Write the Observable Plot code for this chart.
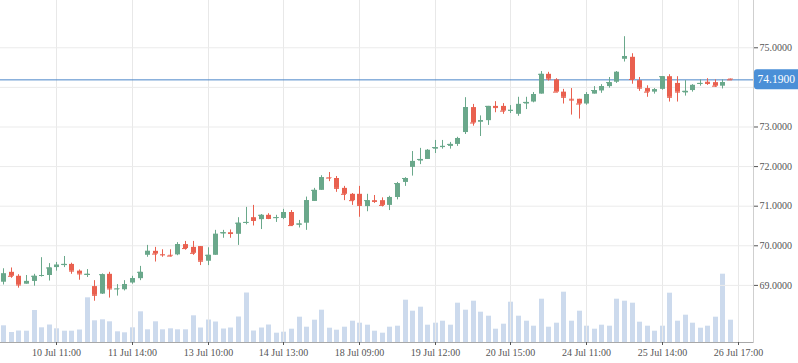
<!DOCTYPE html>
<html><head><meta charset="utf-8">
<script src="https://cdn.jsdelivr.net/npm/d3@7"></script>
<script src="https://cdn.jsdelivr.net/npm/@observablehq/plot@0.6"></script>
<style>
html,body{margin:0;padding:0;background:#fff;}
#chart{position:relative;width:798px;height:363px;overflow:hidden;background:#fff;}
#chart svg{position:absolute;left:0;top:0;}
</style></head><body><div id="chart"></div>
<script>
const open = [69.08,69.33,69.23,69.03,69.10,69.23,69.25,69.45,69.50,69.53,69.36,69.25,68.97,68.78,69.28,68.90,68.89,69.06,69.17,69.76,
69.86,69.78,69.76,69.77,70.03,69.96,69.98,69.61,69.76,70.30,70.33,70.29,70.57,70.71,70.66,70.77,70.69,70.69,70.84,70.52,
70.57,71.12,71.40,71.72,71.70,71.45,71.30,71.30,70.99,71.14,71.14,71.02,71.22,71.60,71.98,72.14,72.18,72.44,72.48,72.51,
72.56,72.86,73.49,73.12,73.16,73.52,73.52,73.40,73.32,73.58,73.63,73.83,74.33,74.19,73.88,73.70,73.70,73.58,73.83,73.91,
74.02,74.13,74.71,74.76,74.17,73.97,73.88,73.95,74.27,74.10,73.86,73.92,74.08,74.13,74.12,74.03,74.21];
const close = [69.29,69.23,69.01,69.10,69.23,69.25,69.44,69.51,69.53,69.36,69.29,69.28,68.75,69.27,68.91,68.91,69.02,69.17,69.33,69.86,
69.79,69.77,69.74,70.03,69.93,69.81,69.61,69.76,70.29,70.33,70.31,70.57,70.59,70.64,70.77,70.69,70.71,70.84,70.51,70.55,
71.14,71.40,71.72,71.71,71.45,71.30,71.14,71.02,71.14,71.12,71.02,71.22,71.57,71.70,72.13,72.18,72.41,72.48,72.51,72.56,
72.71,73.49,73.10,73.16,73.52,73.49,73.40,73.42,73.57,73.62,73.82,74.33,74.21,73.88,73.75,73.68,73.58,73.82,73.92,74.02,
74.12,74.38,74.78,74.20,73.98,73.88,73.94,74.27,73.75,73.88,73.90,74.05,74.10,74.10,74.03,74.12,74.19];
const high = [69.42,69.44,69.27,69.25,69.28,69.70,69.55,69.58,69.73,69.56,69.39,69.40,69.12,69.29,69.33,69.02,69.12,69.23,69.48,70.01,
69.96,69.90,69.90,70.08,70.11,70.11,69.98,69.95,70.39,70.39,70.40,70.71,70.97,71.02,70.79,70.81,70.77,70.92,70.89,70.64,
71.23,71.45,71.77,71.85,71.75,71.50,71.32,71.50,71.30,71.27,71.21,71.25,71.60,71.72,72.38,72.46,72.43,72.66,72.66,72.61,
72.74,73.74,73.57,73.28,73.52,73.64,73.59,73.54,73.75,73.75,73.87,74.40,74.38,74.22,73.95,73.97,73.70,73.87,74.02,74.07,
74.25,74.40,75.28,74.85,74.25,74.04,73.97,74.27,74.32,74.27,74.17,74.07,74.19,74.22,74.19,74.19,74.21];
const low = [69.01,69.18,68.93,69.03,68.98,69.21,69.11,69.36,69.45,69.28,69.13,69.20,68.60,68.77,68.68,68.73,68.86,69.03,69.12,69.71,
69.59,69.71,69.72,69.75,69.89,69.76,69.50,69.50,69.76,70.19,70.19,70.01,70.53,70.50,70.41,70.66,70.59,70.66,70.49,70.45,
70.39,71.12,71.40,71.62,71.35,71.14,71.02,70.72,70.86,71.07,70.98,70.89,71.16,71.50,71.76,72.05,72.18,72.33,72.44,72.44,
72.51,72.81,73.02,72.76,73.04,73.36,73.32,73.34,73.27,73.44,73.61,73.83,74.16,73.88,73.58,73.30,73.20,73.55,73.83,73.85,
73.98,74.10,74.64,74.08,73.90,73.75,73.83,73.93,73.63,73.63,73.78,73.88,74.03,74.05,74.00,73.96,74.19];
const volume = [1670,1000,1150,1130,3200,1470,1750,1370,1130,1130,1250,4470,2170,2270,2070,1070,970,1470,3070,1270,
2070,1270,1370,1270,1270,2670,1450,2250,2050,1350,1450,2550,4950,1150,1450,1750,930,1030,1330,2530,
1530,2230,3230,1430,1230,1530,2130,1930,1730,1130,930,1530,1630,4230,3130,3530,1730,1930,2130,1730,
3930,3230,4130,3030,2630,1330,1830,4030,2630,2130,1630,4330,1530,1930,5030,2130,3130,1630,1330,1730,
1630,4330,4130,3930,2030,1630,1130,1630,4930,2130,2730,1930,1430,1630,2530,6830,2230];
const tickIndex = [7,17,27,37,47,57,67,77,87,97];
const tickLabels = ["10 Jul 11:00","11 Jul 14:00","13 Jul 10:00","14 Jul 13:00","18 Jul 09:00","19 Jul 12:00","20 Jul 15:00","24 Jul 11:00","25 Jul 14:00","26 Jul 17:00"];
const gridPrices = [69,70,71,72,73,74,75];
const labelPrices = [69,70,71,72,73,75];
const lastPrice = 74.19;

const rows = open.map((o,i)=>({i, o, c:close[i], h:high[i], l:low[i], v:volume[i], up: close[i] >= o}));
const ups = rows.filter(d=>d.up), downs = rows.filter(d=>!d.up);
const GREEN = "#6aa88b", RED = "#e9604f";
const FONT = "'Liberation Serif', 'Times New Roman', serif";
const xDomain = [-0.44, 99.04];
const common = {width:798, height:363, marginLeft:0, marginRight:45, marginTop:0, marginBottom:21};

const volPlot = Plot.plot({
  ...common,
  style:{background:"transparent"},
  x:{type:"linear", domain:xDomain, round:true, axis:null},
  y:{domain:[0,34200], axis:null},
  marks:[
    Plot.ruleX(rows, {x:"i", y1:0, y2:"v", stroke:"#c3d4ea", strokeOpacity:0.85, strokeWidth:5})
  ]
});

const half = 0.33;
const pricePlot = Plot.plot({
  ...common,
  style:{background:"transparent", fontFamily:FONT, fontSize:"10px", color:"#555"},
  x:{type:"linear", domain:xDomain, round:true},
  y:{domain:[67.558, 76.194]},
  marks:[
    Plot.gridX(tickIndex, {stroke:"#e8e8e8", strokeOpacity:1}),
    Plot.gridY(gridPrices, {stroke:"#ebebeb", strokeOpacity:1}),
    Plot.frame({anchor:"bottom", stroke:"#a8a8a8"}),
    Plot.frame({anchor:"right", stroke:"#cfcfcf"}),
    Plot.axisX(tickIndex, {tickFormat:d=>tickLabels[tickIndex.indexOf(d)], tickSize:3, tickPadding:3, label:null, fontSize:10}),
    Plot.axisY(labelPrices, {anchor:"right", tickFormat:d=>d.toFixed(4), tickSize:4, tickPadding:2, label:null, fontSize:10}),
    Plot.ruleY([lastPrice], {stroke:"#4a86c8", strokeWidth:1}),
    Plot.ruleX(ups, {x:"i", y1:"l", y2:"h", stroke:GREEN}),
    Plot.ruleX(downs, {x:"i", y1:"l", y2:"h", stroke:RED}),
    Plot.ruleX(ups, {x:"i", y1:"o", y2:"c", stroke:GREEN, strokeWidth:5}),
    Plot.ruleX(downs, {x:"i", y1:"o", y2:"c", stroke:RED, strokeWidth:5}),
    Plot.ruleY(ups, {y:"c", x1:d=>d.i-half, x2:d=>d.i+half, stroke:GREEN}),
    Plot.ruleY(downs, {y:"c", x1:d=>d.i-half, x2:d=>d.i+half, stroke:RED})
  ]
});

const chart = document.getElementById("chart");
chart.appendChild(volPlot);
chart.appendChild(pricePlot);

// last price badge on the right axis, positioned through the price scale
const yPix = pricePlot.scale("y").apply(lastPrice);
const xRight = pricePlot.scale("x").apply(xDomain[1]);
const svg = d3.select(pricePlot);
const g = svg.append("g");
g.append("rect").attr("x",xRight+1).attr("y",yPix-10).attr("width",50).attr("height",20).attr("rx",3).attr("fill","#4a8fd7");
g.append("text").attr("x",xRight+4.5).attr("y",yPix).attr("dy","0.35em").attr("fill","#fff")
  .attr("text-anchor","start").attr("font-family",FONT).attr("font-size",11.5).text(lastPrice.toFixed(4));
</script></body></html>
